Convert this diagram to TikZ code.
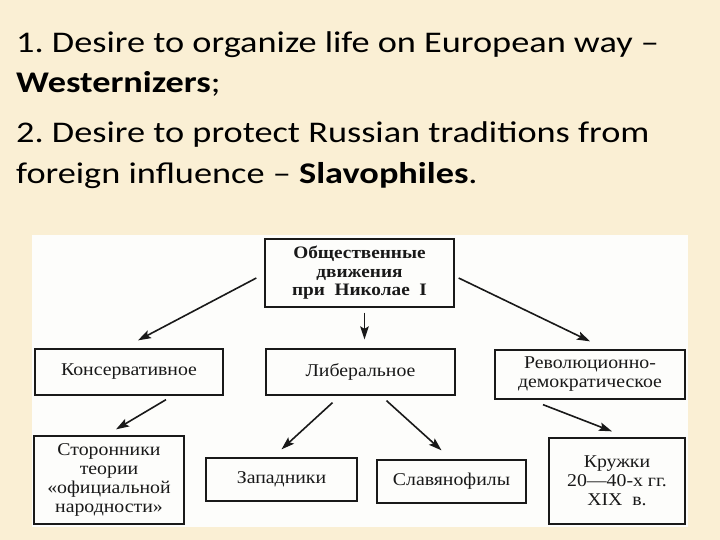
\documentclass[tikz,border=0pt]{standalone}
\usepackage{fontspec}
\setmainfont[FakeStretch=1.21]{Carlito}
\newfontfamily\diagfont[FakeStretch=1.1]{Liberation Serif}
\usetikzlibrary{arrows.meta}
\definecolor{parch}{RGB}{250,239,212}
\definecolor{panel}{RGB}{253,253,251}
\definecolor{ink}{RGB}{25,25,25}
\tikzset{
  line/.style={anchor=base west, inner sep=0pt, font=\fontsize{30}{36}\selectfont, text=black},
  box/.style={draw=ink, line width=1.3pt, inner sep=0pt, align=center, font=\diagfont\fontsize{18}{19}\selectfont, text=ink},
  conn/.style={draw=ink, line width=1.6pt, -{Stealth[length=13pt,width=8.5pt,inset=2.5pt]}}
}
\begin{document}
\frenchspacing
\begin{tikzpicture}[x=1pt,y=-1pt]
\fill[parch] (0,0) rectangle (720,540);
\useasboundingbox (0,0) rectangle (720,540);
\fill[panel] (32,235) rectangle (688,527);

\node[line] (l1) at (16,53) {1. Desire to organize life on European way –};
\node[line] (l2) at (16,93) {\textbf{Westernizers};};
\node[line] (l3) at (16,143) {2. Desire to protect Russian traditions from};
\node[line] (l4) at (16,184) {foreign influence – \textbf{Slavophiles}.};

\node[box, minimum width=189pt, minimum height=68pt, font=\diagfont\bfseries\fontsize{17.5}{18.5}\selectfont] (top) at (359.5,273) {Общественные\\движения\\при~ Николае~ I};
\node[box, minimum width=188pt, minimum height=46pt] (kons) at (129,372) {Консервативное};
\node[box, minimum width=189pt, minimum height=46pt] (lib) at (360.5,372) {Либеральное};
\node[box, minimum width=190pt, minimum height=49pt] (rev) at (590,374.5) {Революционно-\\демократическое};
\node[box, minimum width=150pt, minimum height=88pt] (stor) at (109,480) {Сторонники\\теории\\«официальной\\народности»};
\node[box, minimum width=151pt, minimum height=43pt] (zap) at (281.5,479.5) {Западники};
\node[box, minimum width=149pt, minimum height=43pt] (slav) at (451.5,481.5) {Славянофилы};
\node[box, minimum width=136pt, minimum height=86pt] (kru) at (617,481) {Кружки\\20—40-х гг.\\XIX~ в.};

\draw[conn] ([xshift=-8pt,yshift=-5pt]top.west) -- ([xshift=9pt,yshift=8pt]kons.north);
\draw[conn] ([xshift=5pt,yshift=-5pt]top.south) -- ([xshift=4pt,yshift=9pt]lib.north);
\draw[conn] ([xshift=4pt,yshift=-5pt]top.east) -- ([yshift=8pt]rev.north);
\draw[conn] ([xshift=37pt,yshift=-4pt]kons.south) -- ([xshift=7pt,yshift=6pt]stor.north);
\draw[conn] ([xshift=-28pt,yshift=-7pt]lib.south) -- ([xshift=0pt,yshift=8pt]zap.north);
\draw[conn] ([xshift=26pt,yshift=-5pt]lib.south) -- ([xshift=-10pt,yshift=9pt]slav.north);
\draw[conn] ([xshift=-47pt,yshift=-5pt]rev.south) -- ([xshift=-5pt,yshift=6pt]kru.north);
\end{tikzpicture}
\end{document}
